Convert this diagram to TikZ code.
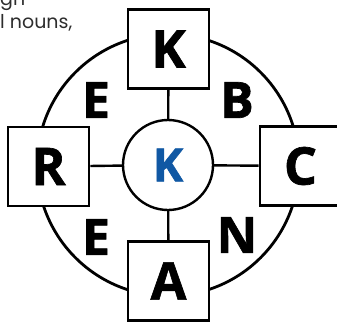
\documentclass[tikz,border=0pt]{standalone}
\usepackage{fontspec}
\setmainfont{Open Sans}[BoldFeatures={FakeBold=1.3}]
\newfontfamily\captionfont{Poppins}
\usepackage{tikz}

\definecolor{hubblue}{RGB}{16,88,164}
\definecolor{captiongray}{RGB}{45,45,45}

\begin{document}
\begin{tikzpicture}[x=1pt,y=-1pt,
    letterbox/.style={draw,line width=2.6pt,fill=white,minimum width=81pt,minimum height=79pt,
      inner sep=0pt,font=\fontsize{52}{52}\selectfont\bfseries},
    ringletter/.style={inner sep=0pt,font=\fontsize{50}{50}\selectfont\bfseries},
    spoke/.style={line width=2.4pt}]
  \useasboundingbox (0,0) rectangle (337,322);
  \clip (0,0) rectangle (337,322);
  % cut-off caption text
  \node[anchor=base west,inner sep=0pt,text=captiongray,font=\captionfont\fontsize{19}{19}\selectfont] (capa) at (0,5) {gh};
  \node[anchor=base west,inner sep=0pt,text=captiongray,font=\captionfont\fontsize{19}{19}\selectfont] (capb) at (0,28) {l nouns,};
  % ring
  \draw[line width=2.8pt] (168,165) circle (131pt);
  \node[circle,draw,line width=2.4pt,fill=white,minimum size=90pt,inner sep=0pt,text=hubblue,
    font=\fontsize{46}{46}\selectfont\bfseries] (hub) at (168,165) {K};
  \node[letterbox] (north) at (168.5,49) {K};
  \node[letterbox] (east) at (300.5,166) {C};
  \node[letterbox] (south) at (168.5,281) {A};
  \node[letterbox] (west) at (48.5,166.5) {R};
  \draw[spoke] (hub) -- (north);
  \draw[spoke] (hub) -- (east);
  \draw[spoke] (hub) -- (south);
  \draw[spoke] (hub) -- (west);
  % letters on the ring
  \node[ringletter] (ne) at (237,100) {B};
  \node[ringletter] (nw) at (96,100) {E};
  \node[ringletter] (sw) at (96,237) {E};
  \node[ringletter] (se) at (237,235) {N};
\end{tikzpicture}
\end{document}
